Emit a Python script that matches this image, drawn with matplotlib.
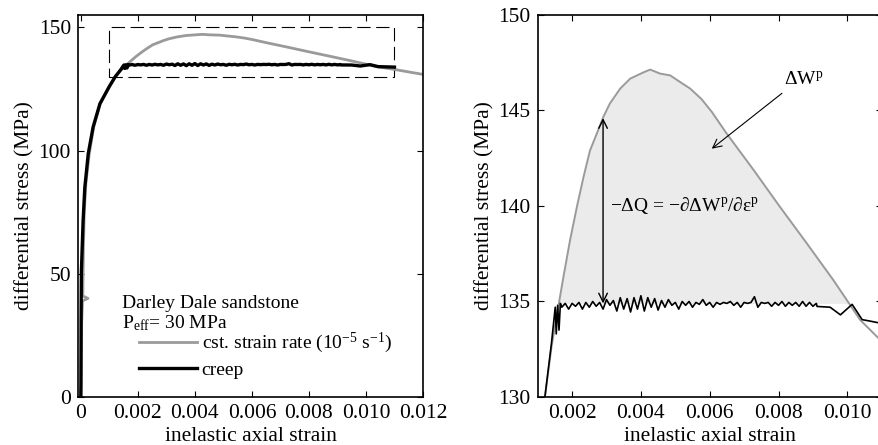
import numpy as np
import matplotlib
matplotlib.use('Agg')
import matplotlib.pyplot as plt
from matplotlib.patches import Rectangle

plt.rcParams['font.family'] = ['Liberation Serif', 'DejaVu Serif']
plt.rcParams['mathtext.fontset'] = 'custom'
plt.rcParams['mathtext.rm'] = 'Liberation Serif'
plt.rcParams['mathtext.it'] = 'Liberation Serif:italic'
plt.rcParams['font.size'] = 15.5

# constant strain rate test (gray)
csr_x = [0, 0.00003, 0.00006, 0.00025, 0.00007, 0.00009, 0.00012, 0.00018, 0.0003,
         0.00045, 0.00068, 0.001, 0.00121, 0.0014, 0.0016, 0.00175, 0.00194, 0.00214,
         0.00233, 0.00252, 0.00272, 0.00291, 0.0031, 0.0034, 0.00369, 0.00408, 0.00427,
         0.00456, 0.00485, 0.00514, 0.00543, 0.00576, 0.00606, 0.00649, 0.00727, 0.00804,
         0.00882, 0.00959, 0.00998, 0.01037, 0.01095, 0.0115, 0.012]
csr_y = [0, 30, 39, 40, 41, 60, 75, 87, 99,
         109.5, 119, 126, 130, 132.6, 134.74, 136.3, 138.2, 139.96,
         141.5, 142.9, 143.8, 144.67, 145.37, 146.15, 146.67, 147.0, 147.14,
         146.93, 146.84, 146.49, 146.15, 145.6, 144.93, 143.8, 141.9, 139.96,
         138.05, 136.13, 135.09, 134.04, 133.0, 131.9, 130.9]

# creep test (black)
creep_rise_x = [0, 0.000005, 0.00001, 0.00002, 0.00008, 0.00014, 0.00026, 0.00043,
                0.00067, 0.001, 0.00121, 0.0014, 0.00151, 0.00154, 0.00158, 0.00162, 0.00166]
creep_rise_y = [0, 5, 31, 51, 71.5, 85, 98.7, 109.5,
                119, 126, 130, 132.8, 134.7, 133.3, 134.8, 133.5, 134.9]
creep_flat_y = [134.7, 134.9, 134.6, 134.9, 134.75, 134.95, 134.6, 134.95, 134.7, 135.0,
                134.75, 134.95, 134.6, 135.1, 134.8, 135.05, 134.5, 135.2, 134.6, 135.15,
                134.45, 135.2, 134.6, 135.3, 134.5, 135.2, 134.7, 135.15, 134.55, 135.05,
                134.7, 135.1, 134.8, 134.95, 134.6, 135.0, 134.8, 135.0, 134.7, 134.95,
                134.85, 135.1, 134.8, 134.95, 134.7, 134.95, 134.85, 134.95, 134.9, 135.0,
                134.8, 134.95, 134.7, 134.95, 134.9, 134.95, 135.25, 134.7, 134.95, 134.9,
                134.95, 134.75, 134.95, 134.8, 135.0, 134.75, 134.95, 134.8, 134.95, 134.75,
                135.0, 134.75, 134.95, 134.75, 134.9]
creep_tail_x = [0.00912, 0.0095, 0.0098, 0.01014, 0.01043, 0.01067, 0.011]
creep_tail_y = [134.74, 134.7, 134.3, 134.85, 134.05, 133.97, 133.85]

creep_x = np.concatenate([creep_rise_x, np.linspace(0.0017, 0.0091, len(creep_flat_y)), creep_tail_x])
creep_y = np.concatenate([creep_rise_y, creep_flat_y, creep_tail_y])
creep_level = 134.9

gray = '#9a9a9a'

fig = plt.figure(figsize=(8.79, 4.45), dpi=100)
ax1 = fig.add_axes([0.0887, 0.1079, 0.3925, 0.8584])
ax2 = fig.add_axes([0.6117, 0.1079, 0.3914, 0.8584])

for ax in (ax1, ax2):
    ax.tick_params(direction='in', top=True, right=True, length=4, width=0.8,
                   labelsize=15.5, pad=5)
    for s in ax.spines.values():
        s.set_linewidth(1.2)
    ax.set_xlabel('inelastic axial strain', labelpad=3)
    ax.set_ylabel('differential stress (MPa)', labelpad=3)

# left panel
ax1.plot(csr_x, csr_y, color=gray, lw=2.0, label=r'cst. strain rate (10$^{-5}$ s$^{-1}$)')
ax1.plot(creep_x, creep_y, color='black', lw=2.4, label='creep')
ax1.add_patch(Rectangle((0.001, 130), 0.01, 20, fill=False, lw=0.8, ls=(0, (12, 5)), color='black'))
ax1.set_xlim(-0.0001, 0.012)
ax1.set_ylim(0, 155)
ax1.set_xticks([0, 0.002, 0.004, 0.006, 0.008, 0.010, 0.012])
ax1.set_xticklabels(['0', '0.002', '0.004', '0.006', '0.008', '0.010', '0.012'])
ax1.set_yticks([0, 50, 100, 150])
ax1.text(0.128, 0.244, 'Darley Dale sandstone', transform=ax1.transAxes, va='center', fontsize=14)
ax1.text(0.128, 0.193, r'P$_{\mathrm{eff}}$= 30 MPa', transform=ax1.transAxes, va='center', fontsize=14)
ax1.legend(loc='lower left', bbox_to_anchor=(0.15, 0.022), frameon=False, borderpad=0,
           handlelength=2.95, handletextpad=0.25, labelspacing=0.3, fontsize=14)

# right panel
csr_x_arr = np.array(csr_x)
csr_y_arr = np.array(csr_y)
m = csr_x_arr > 0.0011
ax2.fill_between(csr_x_arr[m], csr_y_arr[m], creep_level, where=csr_y_arr[m] > creep_level,
                 interpolate=True, color='#ebebeb', lw=0)
ax2.plot(csr_x, csr_y, color=gray, lw=1.4)
ax2.plot(creep_x, creep_y, color='black', lw=1.2)
ax2.annotate('', xy=(0.0029, 134.9), xytext=(0.0029, 144.6),
             arrowprops=dict(arrowstyle='<->', lw=1.0, color='black', shrinkA=0, shrinkB=0))
ax2.text(0.0031, 140, r'−ΔQ = −∂ΔW$^{\mathrm{p}}$/∂ε$^{\mathrm{p}}$', va='center', fontsize=14)
ax2.text(0.00815, 146.6, r'ΔW$^{\mathrm{p}}$', va='center', fontsize=14)
ax2.annotate('', xy=(0.00606, 143.0), xytext=(0.0081, 145.9),
             arrowprops=dict(arrowstyle='->', lw=0.8, color='black', shrinkA=0, shrinkB=0))
ax2.set_xlim(0.001, 0.011)
ax2.set_ylim(130, 150)
ax2.set_xticks([0.002, 0.004, 0.006, 0.008, 0.010])
ax2.set_xticklabels(['0.002', '0.004', '0.006', '0.008', '0.010'])
ax2.set_yticks([130, 135, 140, 145, 150])

fig.savefig('out.png', dpi=100)
